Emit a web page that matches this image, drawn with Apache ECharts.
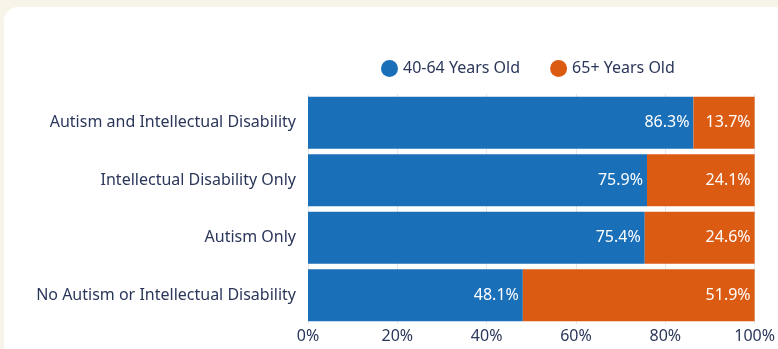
<!DOCTYPE html>
<html>
<head>
<meta charset="utf-8">
<script src="https://cdn.jsdelivr.net/npm/echarts@6/dist/echarts.min.js"></script>
<style>
  html, body { margin: 0; padding: 0; background: #f8f4ea; }
  #card { position: absolute; left: 4px; top: 7px; width: 800px; height: 400px; background: #fff; border-radius: 14px; }
  #chart { position: absolute; left: 0; top: 0; width: 778px; height: 349px; }
</style>
</head>
<body>
<div id="card"></div>
<div id="chart"></div>
<script>
var categories = [
  "Autism and Intellectual Disability",
  "Intellectual Disability Only",
  "Autism Only",
  "No Autism or Intellectual Disability"
];
var seriesNames = ["40-64 Years Old", "65+ Years Old"];
var younger = [86.3, 75.9, 75.4, 48.1];
var older = [13.7, 24.1, 24.6, 51.9];
var colors = ["#1a6fb9", "#dc5b13"];
var textColor = "#2b375a";
var fontName = "Noto Sans";

var chart = echarts.init(document.getElementById("chart"));

function barSeries(name, values, color) {
  return {
    name: name,
    type: "bar",
    stack: "total",
    barWidth: 52,
    data: values,
    itemStyle: { color: color },
    label: {
      show: true,
      position: "insideRight",
      color: "#fff",
      fontSize: 16,
      fontFamily: fontName,
      distance: 4,
      formatter: function (p) { return p.value.toFixed(1) + "%"; }
    }
  };
}

chart.setOption({
  textStyle: { fontFamily: fontName },
  legend: {
    top: 55,
    left: 376,
    icon: "circle",
    itemWidth: 17,
    itemHeight: 17,
    itemGap: 30,
    textStyle: { color: textColor, fontSize: 16, fontFamily: fontName },
    data: seriesNames
  },
  grid: { left: 308, right: 22, top: 94, bottom: 25, containLabel: false },
  xAxis: {
    type: "value",
    min: 0,
    max: 100,
    interval: 20,
    axisLabel: { color: textColor, fontSize: 16, margin: 4, formatter: "{value}%" },
    axisLine: { show: false },
    axisTick: { show: false },
    splitLine: { show: true, lineStyle: { color: "#e6e6e6" } }
  },
  yAxis: {
    type: "category",
    inverse: true,
    data: categories,
    axisLabel: { color: textColor, fontSize: 16, margin: 12 },
    axisLine: { show: false },
    axisTick: { show: false }
  },
  series: [
    barSeries(seriesNames[0], younger, colors[0]),
    barSeries(seriesNames[1], older, colors[1])
  ]
});
</script>
</body>
</html>
